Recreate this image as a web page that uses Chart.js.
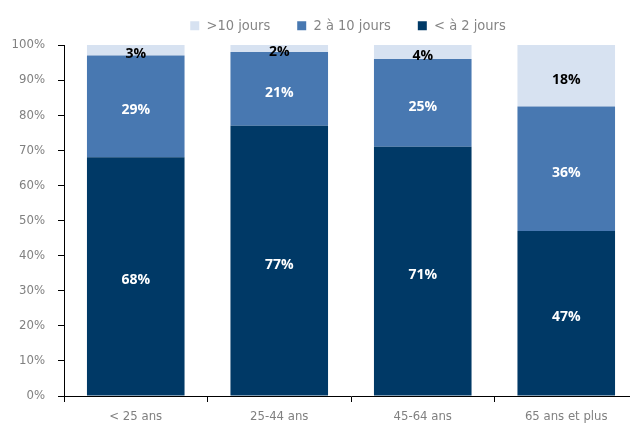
<!DOCTYPE html>
<html>
<head>
<meta charset="utf-8">
<script src="https://cdn.jsdelivr.net/npm/chart.js@4/dist/chart.umd.min.js"></script>
<style>
html,body{margin:0;padding:0;background:#fff;overflow:hidden;}
#wrap{width:640px;height:425px;position:relative;}
</style>
</head>
<body>
<div id="wrap"><canvas id="c" width="640" height="425"></canvas></div>
<script>
const categories = ['< 25 ans', '25-44 ans', '45-64 ans', '65 ans et plus'];
const seriesNames = ['>10 jours', '2 à 10 jours', '< à 2 jours'];
const lessThan2 = [68, 77, 71, 47];
const from2to10 = [29, 21, 25, 35.5];
const moreThan10 = [3, 2, 4, 17.5];
const yTicks = [0, 10, 20, 30, 40, 50, 60, 70, 80, 90, 100];

const colors = ['#D7E2F1', '#4878B1', '#003966'];
const labelColors = ['#000000', '#FFFFFF', '#FFFFFF'];
const narrow = "'Liberation Sans Narrow', 'DejaVu Sans Condensed', 'Roboto', sans-serif";

const labelPlugin = {
  id: 'segLabels',
  afterLayout(chart) {
    const L = chart.legend;
    if (!L) return;
    const shift = (696 - (L.left + L.right)) / 2;
    L.left += shift; L.right += shift;
    L.top = -8.5;
  },
  afterDatasetsDraw(chart) {
    const ctx = chart.ctx;
    ctx.save();
    ctx.font = "bold 14px 'Open Sans', sans-serif";
    ctx.textAlign = 'center';
    ctx.textBaseline = 'middle';
    chart.data.datasets.forEach((ds, i) => {
      const meta = chart.getDatasetMeta(i);
      meta.data.forEach((bar, j) => {
        const v = ds.data[j];
        ctx.fillStyle = ds.labelColor;
        const yc = (bar.y + bar.base) / 2;
        ctx.fillText(Math.round(v) + '%', bar.x, yc + 4);
      });
    });
    ctx.restore();
  }
};

new Chart(document.getElementById('c'), {
  type: 'bar',
  data: {
    labels: categories,
    datasets: [
      { label: seriesNames[2], data: lessThan2, backgroundColor: colors[2], labelColor: labelColors[2] },
      { label: seriesNames[1], data: from2to10, backgroundColor: colors[1], labelColor: labelColors[1] },
      { label: seriesNames[0], data: moreThan10, backgroundColor: colors[0], labelColor: labelColors[0] }
    ]
  },
  options: {
    responsive: false,
    animation: false,
    devicePixelRatio: 1,
    layout: { padding: { top: 0, left: 0, right: 2, bottom: 0 } },
    datasets: { bar: { barPercentage: 0.68, categoryPercentage: 1, borderWidth: 0 } },
    plugins: {
      tooltip: { enabled: false },
      legend: {
        position: 'top',
        reverse: true,
        maxHeight: 45,
        labels: {
          boxWidth: 9, boxHeight: 9, padding: 27,
          color: '#858585',
          font: { family: narrow, size: 14.5 }
        }
      }
    },
    scales: {
      x: {
        stacked: true,
        offset: true,
        grid: { display: true, drawOnChartArea: false, drawTicks: true, tickLength: 6, color: '#000', offset: true },
        border: { display: true, color: '#000', width: 1 },
        ticks: { color: '#808080', padding: 7, font: { family: narrow, size: 13 } },
        afterFit(s) { s.height = 29; }
      },
      y: {
        stacked: true,
        min: 0, max: 100,
        afterBuildTicks(s) { s.ticks = yTicks.map(v => ({ value: v })); },
        grid: { display: true, drawOnChartArea: false, drawTicks: true, tickLength: 6, color: '#000' },
        border: { display: true, color: '#000', width: 1 },
        ticks: { color: '#808080', padding: 13, font: { family: narrow, size: 13 }, callback: v => v + '%' },
        afterFit(s) { s.width = 64; }
      }
    }
  },
  plugins: [labelPlugin]
});
</script>
</body>
</html>
